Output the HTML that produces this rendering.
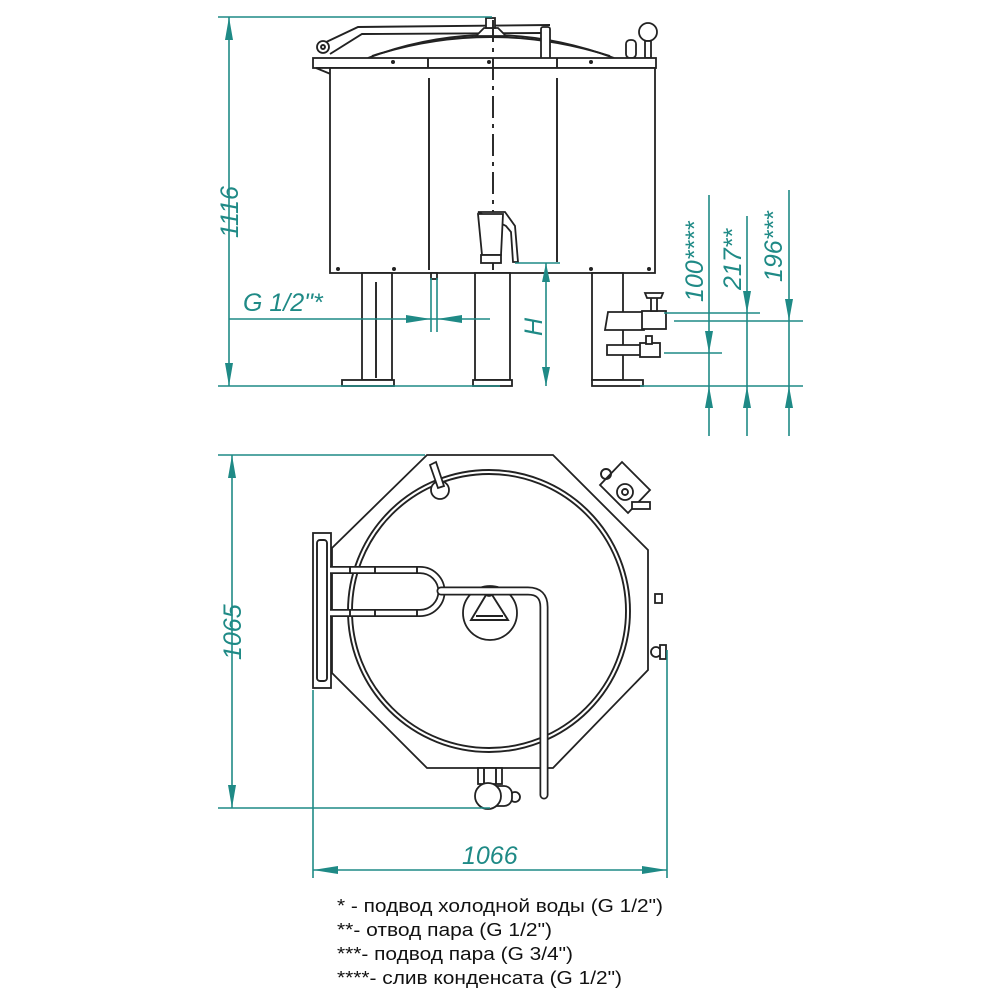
<!DOCTYPE html>
<html><head><meta charset="utf-8"><style>
html,body{margin:0;padding:0;background:#fff;}
svg{display:block;}
.k{stroke:#222;stroke-width:1.9;fill:none;}
.kf{stroke:#222;stroke-width:1.8;fill:#fff;}
.t{stroke:#1f8a86;stroke-width:1.6;fill:none;}
.tf{fill:#1f8a86;stroke:none;}
.dt{font-family:"Liberation Sans",sans-serif;font-style:italic;fill:#1f8a86;font-size:25px;}
.lg{font-family:"Liberation Sans","Noto Sans CJK SC",sans-serif;fill:#111;font-size:18px;}
</style></head><body>
<svg width="1000" height="1000" viewBox="0 0 1000 1000" xmlns="http://www.w3.org/2000/svg">
<!-- ========== SIDE VIEW ========== -->
<path class="k" d="M368 58 Q490 12 614 58"/>
<path class="k" d="M372 56 Q490 18 610 56"/>
<path class="k" d="M322 44 L358 27 L550 25"/>
<path class="k" d="M330 54 L362 34 L542 33"/>
<rect class="kf" x="541" y="27" width="9" height="63" rx="2"/>
<circle class="kf" cx="323" cy="47" r="6"/>
<circle class="k" cx="323" cy="47" r="2"/>
<path class="kf" d="M476 36 L484 28 L498 28 L506 36 Z"/>
<rect class="kf" x="486" y="18" width="9" height="10"/>
<circle class="kf" cx="648" cy="32" r="9"/>
<rect class="kf" x="645" y="41" width="6" height="17"/>
<rect class="kf" x="626" y="40" width="10" height="18" rx="4"/>
<rect class="kf" x="313" y="58" width="343" height="10"/>
<path class="kf" d="M316 68 L350 82 L350 68 Z"/>
<line class="k" x1="428" y1="58" x2="428" y2="68"/>
<line class="k" x1="557" y1="58" x2="557" y2="68"/>
<circle cx="393" cy="62" r="2" fill="#222"/><circle cx="489" cy="62" r="2" fill="#222"/><circle cx="591" cy="62" r="2" fill="#222"/>
<rect class="kf" x="330" y="68" width="325" height="205"/>
<line class="k" x1="429" y1="78" x2="429" y2="270"/>
<line class="k" x1="557" y1="78" x2="557" y2="262"/>
<line class="k" x1="493" y1="20" x2="493" y2="290" stroke-dasharray="22,6,4,6"/>
<circle cx="338" cy="269" r="2" fill="#222"/><circle cx="394" cy="269" r="2" fill="#222"/><circle cx="591" cy="269" r="2" fill="#222"/><circle cx="649" cy="269" r="2" fill="#222"/>
<path class="kf" d="M478 212 L505 212 L515 226 L518 262 L513 262 L511 232 L506 226 Z"/>
<path class="kf" d="M478 214 L503 214 L501 255 L482 255 Z"/>
<rect class="kf" x="481" y="255" width="20" height="8"/>
<rect class="kf" x="362" y="273" width="30" height="107"/><line class="k" x1="376" y1="282" x2="376" y2="378"/>
<rect class="kf" x="342" y="380" width="52" height="6"/>
<rect class="kf" x="475" y="273" width="35" height="107"/>
<rect class="kf" x="473" y="380" width="39" height="6"/>
<rect class="kf" x="592" y="273" width="31" height="107"/>
<rect class="kf" x="592" y="380" width="51" height="6"/>
<rect class="kf" x="431" y="273" width="6" height="6"/>
<path class="kf" d="M608 312 L644 312 L644 330 L605 330 Z"/>
<rect class="kf" x="642" y="311" width="24" height="18"/>
<rect class="kf" x="651" y="296" width="6" height="15"/>
<path class="kf" d="M645 293 L663 293 L661 298 L647 298 Z"/>
<path class="kf" d="M607 345 L642 345 L642 355 L607 355 Z"/>
<rect class="kf" x="640" y="343" width="20" height="14"/>
<rect class="kf" x="646" y="336" width="6" height="8"/>
<!-- side-view dims -->
<line class="t" x1="218" y1="17" x2="492" y2="17"/>
<line class="t" x1="218" y1="386" x2="500" y2="386"/>
<line class="t" x1="229" y1="17" x2="229" y2="386"/>
<path class="tf" d="M229 17 L225 40 L233 40 Z M229 386 L225 363 L233 363 Z"/>
<text class="dt" transform="translate(238 238) rotate(-90)">1116</text>
<line class="t" x1="229" y1="319" x2="490" y2="319"/>
<line class="t" x1="431" y1="278" x2="431" y2="332"/>
<line class="t" x1="437" y1="278" x2="437" y2="332"/>
<path class="tf" d="M431 319 L406 315 L406 323 Z M437 319 L462 315 L462 323 Z"/>
<text class="dt" x="243" y="311">G 1/2"*</text>
<line class="t" x1="515" y1="263" x2="560" y2="263"/>
<line class="t" x1="546" y1="263" x2="546" y2="386"/>
<path class="tf" d="M546 263 L542 282 L550 282 Z M546 386 L542 367 L550 367 Z"/>
<text class="dt" transform="translate(542 336) rotate(-90)">H</text>
<line class="t" x1="664" y1="313" x2="760" y2="313"/>
<line class="t" x1="674" y1="321" x2="803" y2="321"/>
<line class="t" x1="664" y1="353" x2="722" y2="353"/>
<line class="t" x1="640" y1="386" x2="803" y2="386"/>
<line class="t" x1="709" y1="195" x2="709" y2="436"/>
<line class="t" x1="747" y1="216" x2="747" y2="436"/>
<line class="t" x1="789" y1="190" x2="789" y2="436"/>
<path class="tf" d="M709 353 L705 331 L713 331 Z M709 386 L705 408 L713 408 Z"/>
<path class="tf" d="M747 313 L743 291 L751 291 Z M747 386 L743 408 L751 408 Z"/>
<path class="tf" d="M789 321 L785 299 L793 299 Z M789 386 L785 408 L793 408 Z"/>
<text class="dt" transform="translate(703 302) rotate(-90)">100****</text>
<text class="dt" transform="translate(741 290) rotate(-90)">217**</text>
<text class="dt" transform="translate(782 282) rotate(-90)">196***</text>
<!-- ========== TOP VIEW ========== -->
<path class="kf" d="M427 455 L553 455 L648 550 L648 670 L553 768 L427 768 L332 673 L332 548 Z"/>
<rect class="kf" x="313" y="533" width="18" height="155"/>
<rect class="k" x="317" y="540" width="10" height="141" rx="3"/>
<circle class="k" cx="489" cy="611" r="141"/>
<circle class="k" cx="489" cy="611" r="137"/>
<path class="kf" d="M600 485 L622 462 L650 490 L628 513 Z"/>
<circle class="k" cx="606" cy="474" r="5"/>
<circle class="kf" cx="625" cy="492" r="8"/>
<circle class="k" cx="625" cy="492" r="3"/>
<rect class="kf" x="632" y="502" width="18" height="7"/>
<circle class="kf" cx="440" cy="490" r="9"/>
<path class="kf" d="M430 465 L436 462 L444 486 L438 488 Z"/>
<rect class="kf" x="655" y="594" width="7" height="9"/>
<circle class="kf" cx="656" cy="652" r="5"/><rect class="kf" x="660" y="645" width="6" height="14"/>
<circle class="kf" cx="490" cy="613" r="27"/>
<path class="k" d="M489 590 L471 620 L508 620 Z"/>
<line class="k" x1="476" y1="616" x2="503" y2="616"/>
<circle class="kf" cx="489" cy="592" r="4"/>
<path d="M330 570 L420 570 A21.5 21.5 0 0 1 420 613 L330 613" fill="none" stroke="#222" stroke-width="8"/>
<path d="M330 570 L420 570 A21.5 21.5 0 0 1 420 613 L330 613" fill="none" stroke="#fff" stroke-width="4.5"/>
<line class="k" x1="350" y1="567" x2="350" y2="573"/><line class="k" x1="375" y1="567" x2="375" y2="573"/><line class="k" x1="417" y1="567" x2="417" y2="573"/>
<line class="k" x1="350" y1="610" x2="350" y2="616"/><line class="k" x1="375" y1="610" x2="375" y2="616"/><line class="k" x1="417" y1="610" x2="417" y2="616"/>
<path d="M441 591 L528 591 Q544 591 544 607 L544 795" fill="none" stroke="#222" stroke-width="9" stroke-linecap="round"/>
<path d="M441 591 L528 591 Q544 591 544 607 L544 795" fill="none" stroke="#fff" stroke-width="5.5" stroke-linecap="round"/>
<rect class="kf" x="478" y="768" width="24" height="16"/>
<line class="k" x1="484" y1="768" x2="484" y2="784"/><line class="k" x1="496" y1="768" x2="496" y2="784"/>
<circle class="kf" cx="515" cy="797" r="5"/>
<rect class="kf" x="488" y="786" width="24" height="20" rx="8"/>
<circle class="kf" cx="488" cy="796" r="13"/>
<!-- top view dims -->
<line class="t" x1="218" y1="455" x2="425" y2="455"/>
<line class="t" x1="218" y1="808" x2="490" y2="808"/>
<line class="t" x1="232" y1="455" x2="232" y2="808"/>
<path class="tf" d="M232 455 L228 478 L236 478 Z M232 808 L228 785 L236 785 Z"/>
<text class="dt" transform="translate(241 660) rotate(-90)">1065</text>
<line class="t" x1="313" y1="690" x2="313" y2="878"/>
<line class="t" x1="667" y1="650" x2="667" y2="878"/>
<line class="t" x1="313" y1="870" x2="667" y2="870"/>
<path class="tf" d="M313 870 L338 866 L338 874 Z M667 870 L642 866 L642 874 Z"/>
<text class="dt" x="462" y="864">1066</text>
<!-- legend -->
<text class="lg" x="337" y="912" textLength="326" lengthAdjust="spacingAndGlyphs">* - подвод холодной воды (G 1/2")</text>
<text class="lg" x="337" y="936" textLength="215" lengthAdjust="spacingAndGlyphs">**- отвод пара (G 1/2")</text>
<text class="lg" x="337" y="960" textLength="236" lengthAdjust="spacingAndGlyphs">***- подвод пара (G 3/4")</text>
<text class="lg" x="337" y="984" textLength="285" lengthAdjust="spacingAndGlyphs">****- слив конденсата (G 1/2")</text>
</svg>
</body></html>
